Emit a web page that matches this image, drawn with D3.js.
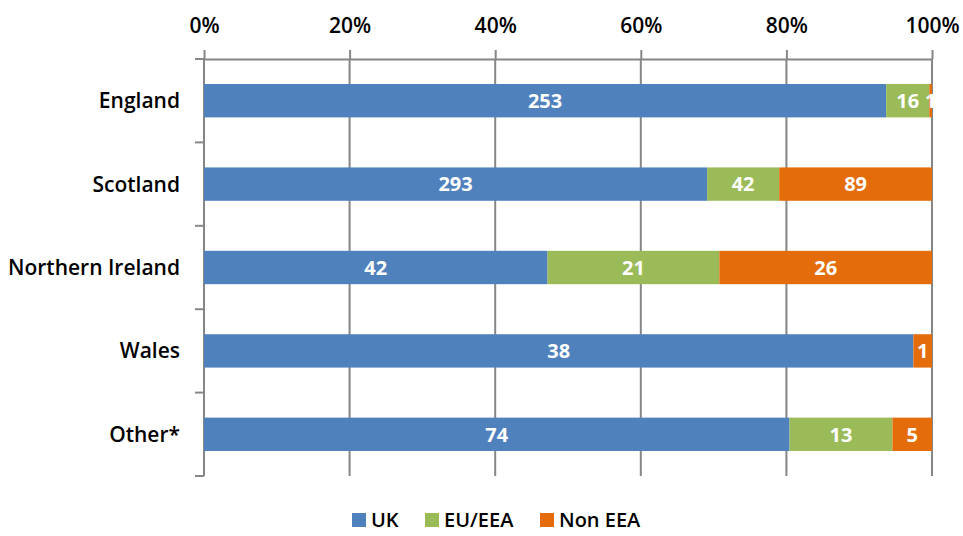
<!DOCTYPE html>
<html>
<head>
<meta charset="utf-8">
<script src="https://cdn.jsdelivr.net/npm/d3@7"></script>
<style>
  body { margin: 0; background: #fff; }
  text { font-family: "Open Sans", "Liberation Sans", sans-serif; }
</style>
</head>
<body>
<script>
var regions = ["England", "Scotland", "Northern Ireland", "Wales", "Other*"],
    seriesNames = ["UK", "EU/EEA", "Non EEA"],
    ukValues = [253, 293, 42, 38, 74],
    euValues = [16, 42, 21, 0, 13],
    nonEeaValues = [1, 89, 26, 1, 5],
    tickValues = [0, 0.2, 0.4, 0.6, 0.8, 1];

var colors = ["#4F81BD", "#9BBB59", "#E46C0A"];

var W = 963, H = 536,
    m = {top: 59, right: 31, bottom: 60, left: 204},
    w = W - m.left - m.right,
    h = 476 - m.top;

var rows = regions.map(function(r, i) {
  return {region: r, "UK": ukValues[i], "EU/EEA": euValues[i], "Non EEA": nonEeaValues[i]};
});

var stacked = d3.stack().keys(seriesNames)
    .offset(d3.stackOffsetExpand)(rows);

var x = d3.scaleLinear().domain([0, 1]).range([0, w]);
var y = d3.scaleBand().domain(regions).range([0, h]).paddingInner(0.6).paddingOuter(0.3);
var yb = d3.scaleBand().domain(regions).range([0, h]);

var svg = d3.select("body").append("svg")
    .attr("width", W)
    .attr("height", H)
  .append("g")
    .attr("transform", "translate(" + m.left + "," + m.top + ")");

var gridColor = "#868686";

// vertical gridlines
svg.append("g").selectAll("line")
    .data(tickValues.slice(1))
  .enter().append("line")
    .attr("x1", function(d) { return x(d); })
    .attr("x2", function(d) { return x(d); })
    .attr("y1", 0)
    .attr("y2", h)
    .attr("stroke", gridColor)
    .attr("stroke-width", 2);

// top axis
var xAxis = svg.append("g")
    .call(d3.axisTop(x).tickValues(tickValues).tickFormat(d3.format(".0%")).tickSize(9).tickSizeOuter(0));
xAxis.select(".domain").attr("stroke", gridColor).attr("stroke-width", 2);
xAxis.selectAll(".tick line").attr("stroke", gridColor).attr("stroke-width", 2);
xAxis.selectAll(".tick text")
    .attr("y", -26)
    .style("font-size", "21px")
    .style("font-weight", "600")
    .attr("fill", "#000");

// left axis with ticks at band edges
svg.append("line")
    .attr("x1", 0).attr("x2", 0).attr("y1", 0).attr("y2", h)
    .attr("stroke", gridColor).attr("stroke-width", 2);
svg.append("g").selectAll("line")
    .data(regions.concat(["_end"]))
  .enter().append("line")
    .attr("x1", -9).attr("x2", 0)
    .attr("y1", function(d, i) { return i * yb.step(); })
    .attr("y2", function(d, i) { return i * yb.step(); })
    .attr("stroke", gridColor).attr("stroke-width", 2);

svg.append("g").selectAll("text")
    .data(regions)
  .enter().append("text")
    .attr("x", -24)
    .attr("y", function(d) { return yb(d) + yb.bandwidth() / 2; })
    .attr("dy", "0.36em")
    .attr("text-anchor", "end")
    .style("font-size", "21px")
    .style("font-weight", "600")
    .attr("fill", "#000")
    .text(String);

// bars
svg.append("defs").append("clipPath").attr("id", "plot")
  .append("rect").attr("x", 0).attr("y", 0).attr("width", w + 1).attr("height", h);

var layer = svg.selectAll(".layer")
    .data(stacked)
  .enter().append("g")
    .attr("class", "layer")
    .attr("fill", function(d, i) { return colors[i]; });

layer.selectAll("rect")
    .data(function(d) { return d; })
  .enter().append("rect")
    .attr("x", function(d) { return x(d[0]); })
    .attr("y", function(d) { return y(d.data.region); })
    .attr("width", function(d) { return x(d[1]) - x(d[0]); })
    .attr("height", y.bandwidth());

// value labels
var labels = svg.append("g").attr("clip-path", "url(#plot)");
stacked.forEach(function(s) {
  labels.selectAll(null)
      .data(s.filter(function(d) { return d.data[s.key] > 0; }))
    .enter().append("text")
      .attr("x", function(d) { return x((d[0] + d[1]) / 2); })
      .attr("y", function(d) { return y(d.data.region) + y.bandwidth() / 2; })
      .attr("dy", "0.36em")
      .attr("text-anchor", "middle")
      .attr("fill", "#fff")
      .style("font-size", "20px")
      .style("font-weight", "700")
      .text(function(d) { return d.data[s.key]; });
});

// legend
var legend = d3.select("svg").append("g")
    .attr("transform", "translate(352,520)");
var legX = [0, 73, 188];
var item = legend.selectAll("g")
    .data(seriesNames)
  .enter().append("g")
    .attr("transform", function(d, i) { return "translate(" + legX[i] + ",0)"; });
item.append("rect")
    .attr("x", 0).attr("y", -7)
    .attr("width", 14).attr("height", 14)
    .attr("fill", function(d, i) { return colors[i]; });
item.append("text")
    .attr("x", 19)
    .attr("dy", "0.36em")
    .style("font-size", "20px")
    .style("font-weight", "600")
    .attr("fill", "#000")
    .text(String);
</script>
</body>
</html>
